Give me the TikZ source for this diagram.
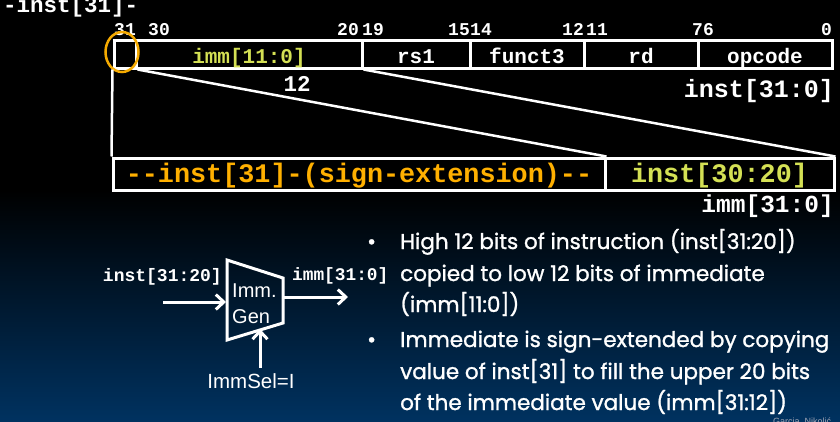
\documentclass[tikz,border=0pt]{standalone}
\usepackage{fontspec}
\setmainfont{Liberation Sans}
\setmonofont{Liberation Mono}
\newfontfamily\bulfont{Poppins}[FakeBold=1.2]
\usetikzlibrary{arrows.meta,shapes.geometric}
\definecolor{immgreen}{RGB}{212,224,84}
\definecolor{signorange}{RGB}{255,176,0}
\definecolor{ringorange}{RGB}{245,170,0}
\definecolor{bgblue}{RGB}{0,50,96}
\definecolor{creditgrey}{RGB}{160,165,180}
\newcommand\myfs[1]{\fontsize{#1}{#1}\selectfont}
\begin{document}
\begin{tikzpicture}[x=1pt,y=-1pt,
  mono/.style={font=\ttfamily\bfseries\myfs{#1}, text=white, inner sep=0pt},
  field/.style={draw=white, line width=3pt, minimum height=28pt, inner sep=0pt,
     text height=21pt, text depth=3pt, font=\ttfamily\bfseries\myfs{21}, text=white},
  lowfield/.style={draw=white, line width=3pt, minimum height=32pt, inner sep=0pt,
     text height=19pt, text depth=3pt, font=\ttfamily\bfseries\myfs{26.8}},
  bitnum/.style={font=\ttfamily\bfseries\myfs{18}, text=white, inner sep=0pt},
  wire/.style={draw=white, line width=2.5pt},
  arr/.style={draw=white, line width=3pt, -{Straight Barb[length=8pt,width=15pt,line width=3pt]}},
  bul/.style={font=\bulfont\myfs{21.5}, text=white, inner sep=0pt, anchor=base west},
  sans/.style={font=\myfs{20}, text=white, inner sep=0pt}
]
\useasboundingbox (0,0) rectangle (840,421);
\fill[black] (0,0) rectangle (840,421);
\shade[top color=black, bottom color=bgblue] (0,190) rectangle (840,421.5);

% top label
\node[mono=22.5, anchor=base west] (sx) at (3,12) {-inst[31]-};

% instruction register
\node[field, minimum width=22pt] (b31) at (125,54) {};
\node[field, minimum width=226pt, text=immgreen] (imm) at (249,54) {imm[11:0]};
\node[field, minimum width=108pt] (rs1) at (416,54) {rs1};
\node[field, minimum width=114pt] (f3) at (527,54) {funct3};
\node[field, minimum width=114pt] (rd) at (641,54) {rd};
\node[field, minimum width=134pt] (op) at (765,54) {opcode};

% bit numbers
\node[bitnum, anchor=base west] (n31) at (114,35) {31};
\node[bitnum, anchor=base west] (n30) at (148,35) {30};
\node[bitnum, anchor=base east] (n20) at (359,35) {20};
\node[bitnum, anchor=base west] (n19) at (362,35) {19};
\node[bitnum, anchor=base east] (n15) at (470,35) {15};
\node[bitnum, anchor=base west] (n14) at (470,35) {14};
\node[bitnum, anchor=base east] (n12) at (584,35) {12};
\node[bitnum, anchor=base west] (n11) at (586,35) {11};
\node[bitnum, anchor=base east] (n7) at (703,35) {7};
\node[bitnum, anchor=base west] (n6) at (703,35) {6};
\node[bitnum, anchor=base east] (n0) at (832,35) {0};

\node[mono=25, anchor=base east] (instlbl) at (834,97) {inst[31:0]};
\node[mono=22.5, anchor=base] (twelve) at (297,91) {12};

% ring around bit 31
\node[draw=ringorange, line width=2.5pt, ellipse, minimum width=33pt, minimum height=40pt, inner sep=0pt] (ring) at (122,52) {};

% immediate register
\node[lowfield, minimum width=492pt, text=signorange] (sext) at (359,174) {--inst[31]-(sign-extension)--};
\node[lowfield, minimum width=229pt, text=immgreen] (low) at (719.5,174) {inst[30:20]};
\node[mono=24.5, anchor=base east] (immlbl) at (834,212) {imm[31:0]};

% connectors
\draw[wire] (b31.south west) -- (sext.north west);
\draw[wire] (b31.south east) -- (sext.north east);
\draw[wire] (imm.south east) -- (low.north east);

% Imm. Gen block
\coordinate (g1) at (227,260);
\coordinate (g2) at (283,278);
\coordinate (g3) at (283,323);
\coordinate (g4) at (227,340);
\draw[draw=white, line width=3pt, line join=miter] (g1) -- (g2) -- (g3) -- (g4) -- cycle;
\node[sans, anchor=base west] (gimm) at (232,297) {Imm.};
\node[sans, anchor=base west] (ggen) at (232,323) {Gen};
\coordinate (inA) at (163,302);
\coordinate (inB) at (226,302);
\coordinate (outA) at (284,297);
\coordinate (outB) at (348,297);
\coordinate (selA) at (260,368);
\coordinate (selB) at (260,329);
\draw[arr] (inA) -- (inB);
\draw[arr] (outA) -- (outB);
\draw[arr] (selA) -- (selB);
\node[mono=18, anchor=base east] (ginl) at (222,281) {inst[31:20]};
\node[mono=17.8, anchor=base west] (goutl) at (292,280) {imm[31:0]};
\node[sans, font=\myfs{20.5}, anchor=base] (sel) at (251,388) {ImmSel=I};

% bullets
\node[bul, anchor=base west] (d1) at (367,249) {•};
\node[bul] (l1) at (400,249) {High 12 bits of instruction (inst[31:20])};
\node[bul] (l2) at (400,281) {copied to low 12 bits of immediate};
\node[bul] (l3) at (400,312) {(imm[11:0])};
\node[bul, anchor=base west] (d2) at (367,347) {•};
\node[bul] (l4) at (400,347) {Immediate is sign-extended by copying};
\node[bul] (l5) at (400,379) {value of inst[31] to fill the upper 20 bits};
\node[bul] (l6) at (400,410) {of the immediate value (imm[31:12])};

\node[font=\myfs{9}, text=creditgrey, inner sep=0pt, anchor=base west] (credit) at (773,424) {Garcia, Nikolić};
\end{tikzpicture}
\end{document}
